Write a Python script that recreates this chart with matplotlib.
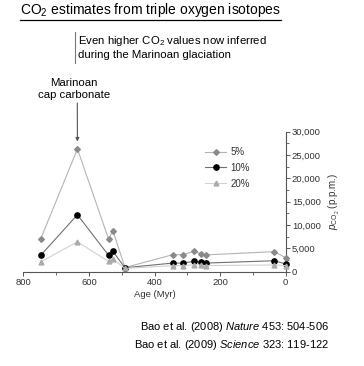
#!/usr/bin/env python3

import matplotlib
matplotlib.use("Agg")
from matplotlib import pyplot as plt
from matplotlib.lines import Line2D
from matplotlib.ticker import MultipleLocator

# data
age = [747, 635, 540, 527, 490, 344, 314, 279, 258, 243, 35, 0]
co2_5 = [7000, 26300, 7000, 8800, 900, 3650, 3650, 4350, 3850, 3600, 4300, 3000]
co2_10 = [3500, 12200, 3500, 4350, 850, 1850, 1850, 2200, 2000, 1850, 2350, 1650]
co2_20 = [2100, 6400, 2200, 2700, 700, 1300, 1300, 1500, 1400, 1300, 1450, 1300]
labels = ["5%", "10%", "20%"]
yticks = [0, 5000, 10000, 15000, 20000, 25000, 30000]
ytick_labels = ["0", "5,000", "10,000", "15,000", "20,000", "25,000", "30,000"]
xticks = [800, 600, 400, 200, 0]

plt.rcParams['font.family'] = ['Liberation Sans', 'DejaVu Sans']
plt.rcParams['mathtext.fontset'] = 'custom'
plt.rcParams['mathtext.rm'] = 'Liberation Sans'
plt.rcParams['mathtext.it'] = 'Liberation Sans:italic'


def main():
    W, H = 364, 366
    fig = plt.figure(figsize=(W / 100, H / 100), dpi=100)
    fig.patch.set_facecolor('white')

    ax = fig.add_axes([23.3 / W, 1 - 271.7 / H, 262.4 / W, 140 / H])
    ax.plot(age, co2_5, '-D', color='#b4b4b4', mfc='#8a8a8a', mec='#8a8a8a',
            ms=2.9, lw=0.8, label=labels[0], clip_on=False, zorder=3)
    ax.plot(age, co2_10, '-o', color='#707070', mfc='black', mec='black',
            ms=3.8, lw=0.8, label=labels[1], clip_on=False, zorder=4)
    ax.plot(age, co2_20, '-^', color='#d2d2d2', mfc='#ababab', mec='#ababab',
            ms=3.5, lw=0.8, label=labels[2], clip_on=False, zorder=5)

    ax.set_xlim(800, 0)
    ax.set_ylim(0, 30000)
    ax.set_xticks(xticks)
    ax.xaxis.set_minor_locator(MultipleLocator(100))
    ax.set_yticks(yticks)
    ax.set_yticklabels(ytick_labels)
    ax.yaxis.set_minor_locator(MultipleLocator(2500))
    ax.yaxis.tick_right()
    ax.yaxis.set_label_position('right')

    for s in ['top', 'left']:
        ax.spines[s].set_visible(False)
    for s in ['bottom', 'right']:
        ax.spines[s].set_color('#555555')
        ax.spines[s].set_linewidth(0.8)
    ax.tick_params(which='major', length=3, width=0.7, color='#555555',
                   labelsize=6.8, labelcolor='#333333', pad=1.5)
    ax.tick_params(which='minor', length=2, width=0.6, color='#555555')
    ax.patch.set_visible(False)

    ax.set_xlabel("Age (Myr)", fontsize=6.8, color='#333333', labelpad=2)
    ax.set_ylabel(r"$\it{p}$$_{\rm CO_2}$ (p.p.m.)", fontsize=7, color='#333333',
                  labelpad=4)

    ax.legend(loc='upper left', bbox_to_anchor=(205 / W, 1 - 147 / H),
              bbox_transform=fig.transFigure, frameon=False, fontsize=7,
              labelcolor='#333333', handlelength=2.2, handletextpad=0.4,
              labelspacing=0.6, borderpad=0, borderaxespad=0)

    # title with underline
    title = fig.text(20 / W, 1 - 10 / H, "CO$_2$ estimates from triple oxygen isotopes",
                     fontsize=10, ha='left', va='center', color='black')
    fig.canvas.draw()
    bb = title.get_window_extent()
    fig.add_artist(Line2D([bb.x0 / W, bb.x1 / W], [1 - 19.5 / H, 1 - 19.5 / H],
                          transform=fig.transFigure, color='black', lw=0.9))

    # note with a bar on its left
    fig.add_artist(Line2D([75 / W, 75 / W], [1 - 32 / H, 1 - 63 / H],
                          transform=fig.transFigure, color='#777777', lw=0.8))
    fig.text(78 / W, 1 - 47 / H,
             "Even higher CO$_2$ values now inferred\nduring the Marinoan glaciation",
             fontsize=8.2, ha='left', va='center', linespacing=1.25)

    fig.text(74 / W, 1 - 89 / H, "Marinoan\ncap carbonate", fontsize=8.2,
             ha='center', va='center', linespacing=1.25)
    ax.annotate("", xy=(635, 27900), xycoords='data',
                xytext=(77.3, H - 103), textcoords='figure pixels',
                arrowprops=dict(arrowstyle='-|>', color='#555555', lw=0.8,
                                mutation_scale=5, shrinkA=0, shrinkB=0),
                annotation_clip=False)

    fig.text(329 / W, 1 - 327 / H, r"Bao et al. (2008) $\it{Nature}$ 453: 504-506",
             fontsize=8, ha='right', va='center')
    fig.text(329 / W, 1 - 345.5 / H, r"Bao et al. (2009) $\it{Science}$ 323: 119-122",
             fontsize=8, ha='right', va='center')

    fig.savefig("out.png", dpi=100)


if __name__ == "__main__":
    main()
